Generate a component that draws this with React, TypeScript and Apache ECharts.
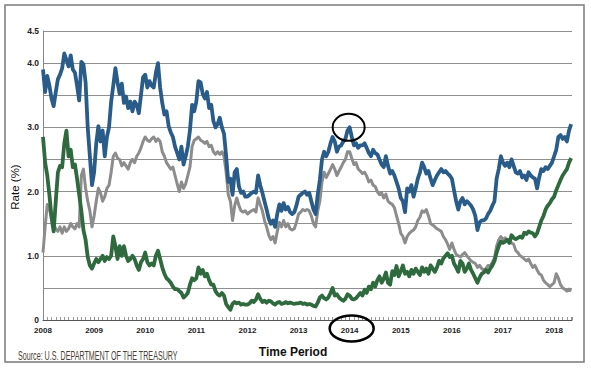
import React, { useEffect, useRef } from "react";
import * as echarts from "echarts";

// Half-monthly readings, 24 per year, starting Jan 2008
const startYear = 2008;
const pointsPerYear = 24;

const tenYear = [
  3.90,3.55,3.80,3.65,3.45,3.33,3.55,3.75,3.82,3.92,4.15,4.05,3.95,4.12,3.90,3.85,3.65,3.42,4.02,3.98,3.70,3.00,2.55,2.10,
  2.30,2.75,3.02,2.78,2.95,2.55,2.85,3.00,3.40,3.65,3.92,3.70,3.52,3.68,3.38,3.48,3.30,3.40,3.25,3.40,3.35,3.22,3.50,3.78,
  3.82,3.62,3.72,3.65,3.62,3.85,4.00,3.62,3.38,3.20,3.25,3.02,2.92,2.85,2.70,2.60,2.50,2.70,2.42,2.55,2.70,2.95,3.35,3.25,
  3.40,3.72,3.70,3.52,3.45,3.55,3.30,3.35,3.10,3.00,3.05,3.15,3.00,2.90,2.55,2.15,2.20,1.95,2.30,2.35,2.08,1.98,2.00,1.92,
  1.92,1.95,1.98,2.00,1.98,2.25,2.10,1.98,1.85,1.72,1.58,1.50,1.55,1.45,1.65,1.80,1.70,1.82,1.72,1.76,1.68,1.65,1.68,1.78,
  1.92,1.95,1.98,2.00,1.95,1.98,1.85,1.72,1.65,1.95,2.18,2.50,2.62,2.55,2.62,2.75,2.85,2.78,2.62,2.70,2.72,2.78,2.82,2.95,
  3.00,2.85,2.72,2.75,2.68,2.72,2.72,2.75,2.68,2.60,2.55,2.65,2.60,2.58,2.50,2.42,2.38,2.55,2.40,2.28,2.32,2.25,2.15,2.05,
  1.90,1.85,1.68,2.05,2.00,2.10,1.92,2.05,2.20,2.30,2.45,2.38,2.28,2.32,2.20,2.10,2.18,2.25,2.30,2.35,2.30,2.32,2.28,2.25,
  2.20,2.02,1.85,1.72,1.85,1.90,1.80,1.85,1.82,1.78,1.72,1.62,1.40,1.52,1.55,1.55,1.58,1.65,1.70,1.78,1.85,2.20,2.35,2.55,
  2.45,2.40,2.45,2.38,2.50,2.40,2.30,2.28,2.32,2.22,2.25,2.18,2.30,2.25,2.22,2.20,2.05,2.22,2.35,2.32,2.38,2.35,2.40,2.45,
  2.55,2.65,2.85,2.88,2.82,2.85,2.78,2.95,3.05,
];

const twoYear = [
  2.85,2.45,2.25,1.95,1.60,1.38,1.85,2.30,2.40,2.38,2.75,2.95,2.55,2.65,2.38,2.42,2.20,1.95,1.70,1.40,1.25,0.98,0.85,0.80,
  0.88,0.95,0.90,0.95,1.00,0.92,0.98,0.95,1.00,1.30,1.15,0.95,1.15,1.00,1.15,1.00,0.92,0.95,1.00,0.95,0.85,0.78,0.90,0.95,
  1.05,0.90,0.85,0.88,0.85,1.00,1.08,0.95,0.82,0.72,0.65,0.62,0.58,0.52,0.48,0.48,0.45,0.42,0.35,0.38,0.42,0.55,0.65,0.62,
  0.65,0.82,0.72,0.78,0.68,0.72,0.62,0.55,0.55,0.45,0.40,0.38,0.42,0.38,0.25,0.20,0.16,0.25,0.28,0.26,0.27,0.24,0.25,0.24,
  0.24,0.26,0.30,0.28,0.32,0.40,0.33,0.28,0.30,0.27,0.30,0.29,0.26,0.24,0.27,0.28,0.25,0.26,0.28,0.26,0.27,0.26,0.25,0.26,
  0.26,0.27,0.25,0.26,0.24,0.25,0.24,0.22,0.21,0.27,0.35,0.38,0.34,0.32,0.35,0.42,0.50,0.38,0.40,0.35,0.32,0.30,0.33,0.40,
  0.38,0.33,0.32,0.34,0.38,0.42,0.38,0.47,0.42,0.52,0.48,0.58,0.52,0.62,0.68,0.58,0.64,0.74,0.58,0.55,0.76,0.70,0.84,0.68,
  0.76,0.85,0.72,0.75,0.68,0.78,0.72,0.80,0.75,0.70,0.82,0.75,0.80,0.72,0.85,0.80,0.75,0.82,0.92,0.88,0.96,1.00,1.04,0.98,
  1.00,0.88,0.82,0.75,0.92,0.88,0.75,0.80,0.88,0.78,0.72,0.65,0.58,0.66,0.72,0.74,0.78,0.74,0.80,0.85,0.92,1.05,1.15,1.22,
  1.20,1.22,1.25,1.20,1.32,1.28,1.26,1.28,1.30,1.28,1.36,1.34,1.38,1.36,1.35,1.30,1.35,1.45,1.55,1.62,1.72,1.78,1.82,1.88,
  1.92,2.02,2.10,2.18,2.25,2.30,2.35,2.45,2.52,
];

const spread = [
  1.05,1.45,1.80,1.72,1.60,1.48,1.42,1.38,1.45,1.35,1.45,1.38,1.42,1.50,1.45,1.42,1.50,1.45,2.25,2.35,2.05,1.85,1.70,1.45,
  1.62,1.85,2.05,1.98,1.85,1.92,2.05,2.10,2.30,2.55,2.60,2.52,2.50,2.40,2.45,2.40,2.35,2.45,2.50,2.45,2.55,2.60,2.68,2.78,
  2.85,2.80,2.78,2.82,2.85,2.78,2.82,2.78,2.62,2.55,2.45,2.40,2.35,2.38,2.25,2.12,2.00,2.15,2.05,2.12,2.25,2.38,2.70,2.80,
  2.82,2.85,2.80,2.78,2.75,2.78,2.70,2.72,2.62,2.58,2.62,2.58,2.62,2.55,2.30,1.95,1.85,1.55,1.78,1.90,1.78,1.70,1.68,1.70,
  1.65,1.68,1.70,1.72,1.68,1.90,1.80,1.70,1.55,1.45,1.32,1.25,1.30,1.20,1.38,1.52,1.45,1.55,1.45,1.50,1.42,1.40,1.42,1.52,
  1.65,1.68,1.72,1.70,1.72,1.70,1.62,1.50,1.45,1.70,1.85,2.15,2.30,2.22,2.28,2.35,2.42,2.35,2.25,2.32,2.38,2.45,2.50,2.62,
  2.62,2.52,2.42,2.45,2.35,2.32,2.28,2.30,2.24,2.15,2.18,2.10,2.08,2.00,1.95,1.98,1.90,1.96,1.85,1.82,1.80,1.75,1.62,1.50,
  1.35,1.30,1.20,1.30,1.35,1.38,1.40,1.45,1.55,1.60,1.70,1.68,1.72,1.62,1.50,1.48,1.45,1.42,1.40,1.38,1.30,1.25,1.18,1.10,
  1.20,1.10,1.02,1.00,0.98,1.02,1.05,1.00,0.96,0.92,0.90,0.88,0.82,0.85,0.80,0.78,0.80,0.85,0.84,0.90,0.96,1.15,1.25,1.30,
  1.25,1.28,1.22,1.25,1.20,1.18,1.08,1.05,1.00,0.98,0.95,0.92,0.95,0.88,0.82,0.85,0.78,0.72,0.70,0.62,0.58,0.55,0.52,0.55,
  0.58,0.72,0.65,0.55,0.50,0.48,0.45,0.48,0.45,
];

const xMin = 2008;
const xMax = 2018.35;
const yTickLabels: Record<string, string> = { "0": "0", "1": "1.0", "2": "2.0", "3": "3.0", "4": "4.0", "4.5": "4.5" };
const peakPoint = [2014, 3.0];
const circledYear = 2014;

const toPairs = (vals: number[]) => vals.map((v, i) => [startYear + i / pointsPerYear, v]);

export default function App() {
  const ref = useRef<HTMLDivElement>(null);
  useEffect(() => {
    if (!ref.current) return;
    const chart = echarts.init(ref.current, undefined, { renderer: "svg" });
    const font = "'Liberation Sans', Arial, sans-serif";
    const mk = (name: string, data: number[], color: string, width: number) => ({
      name,
      type: "line",
      data: toPairs(data),
      showSymbol: false,
      symbol: "none",
      lineStyle: { color, width, join: "round" },
      itemStyle: { color },
      z: 2,
    });
    chart.setOption({
      animation: false,
      backgroundColor: "#ffffff",
      grid: { left: 43, right: 19, top: 31, bottom: 48 },
      xAxis: {
        type: "value",
        min: xMin,
        max: xMax,
        interval: 1,
        axisLine: { show: true, lineStyle: { color: "#555", width: 1 } },
        axisTick: { show: true, inside: true, length: 3, lineStyle: { color: "#888" } },
        minorTick: { show: true, splitNumber: 12, length: 3, lineStyle: { color: "#999" } },
        splitLine: { show: false },
        axisLabel: {
          formatter: (v: number) => (Math.abs(v - Math.round(v)) < 1e-6 ? String(Math.round(v)) : ""),
          fontSize: 8,
          fontWeight: "bold",
          color: "#222",
          margin: 6,
          fontFamily: font,
          showMaxLabel: false,
        },
      },
      yAxis: {
        type: "value",
        min: 0,
        max: 4.5,
        interval: 0.5,
        axisLine: { show: true, lineStyle: { color: "#888", width: 1 } },
        axisTick: { show: false },
        splitLine: { show: true, lineStyle: { color: "#8f8f8f", width: 1 } },
        axisLabel: {
          formatter: (v: number) => yTickLabels[String(v)] ?? "",
          fontSize: 8.5,
          fontWeight: "bold",
          color: "#222",
          margin: 4,
          fontFamily: font,
        },
      },
      series: [
        mk("10Y-2Y Spread", spread, "#8c8c8c", 3),
        mk("2-Year", twoYear, "#2f6a3e", 3.8),
        mk("10-Year", tenYear, "#2a5c8a", 3.8),
      ],
    });

    const peak = chart.convertToPixel({ xAxisIndex: 0, yAxisIndex: 0 }, peakPoint) as number[];
    const yr = chart.convertToPixel({ xAxisIndex: 0, yAxisIndex: 0 }, [circledYear, 0]) as number[];

    chart.setOption({
      graphic: [
        {
          type: "rect",
          shape: { x: 5, y: 5, width: 579, height: 357 },
          style: { fill: "none", stroke: "#7a7a7a", lineWidth: 1.5 },
          silent: true,
          z: 0,
        },
        {
          type: "ellipse",
          shape: { cx: peak[0] - 1, cy: peak[1], rx: 16, ry: 13.5 },
          style: { fill: "none", stroke: "#000", lineWidth: 2 },
          z: 10,
        },
        {
          type: "ellipse",
          shape: { cx: yr[0] + 2, cy: yr[1] + 8.5, rx: 22, ry: 13 },
          style: { fill: "none", stroke: "#000", lineWidth: 2.5 },
          z: 10,
        },
        {
          type: "text",
          x: 293,
          y: 352,
          style: {
            text: "Time Period",
            font: "bold 12px 'Liberation Sans', Arial, sans-serif",
            fill: "#111",
            align: "center",
            verticalAlign: "middle",
          },
        },
        {
          type: "text",
          x: 15,
          y: 187,
          rotation: Math.PI / 2,
          style: {
            text: "Rate (%)",
            font: "11.5px 'Liberation Sans', Arial, sans-serif",
            fill: "#111",
            align: "center",
            verticalAlign: "middle",
          },
        },
        {
          type: "text",
          x: 18,
          y: 356,
          scaleX: 0.55,
          style: {
            text: "Source: U.S. DEPARTMENT OF THE TREASURY",
            font: "13px 'Liberation Sans', Arial, sans-serif",
            fill: "#4a3f36",
            align: "left",
            verticalAlign: "middle",
          },
        },
      ],
    });
    return () => chart.dispose();
  }, []);
  return (
    <div
      ref={ref}
      style={{ position: "fixed", left: 0, top: 0, width: 591, height: 368, background: "#fff" }}
    />
  );
}
